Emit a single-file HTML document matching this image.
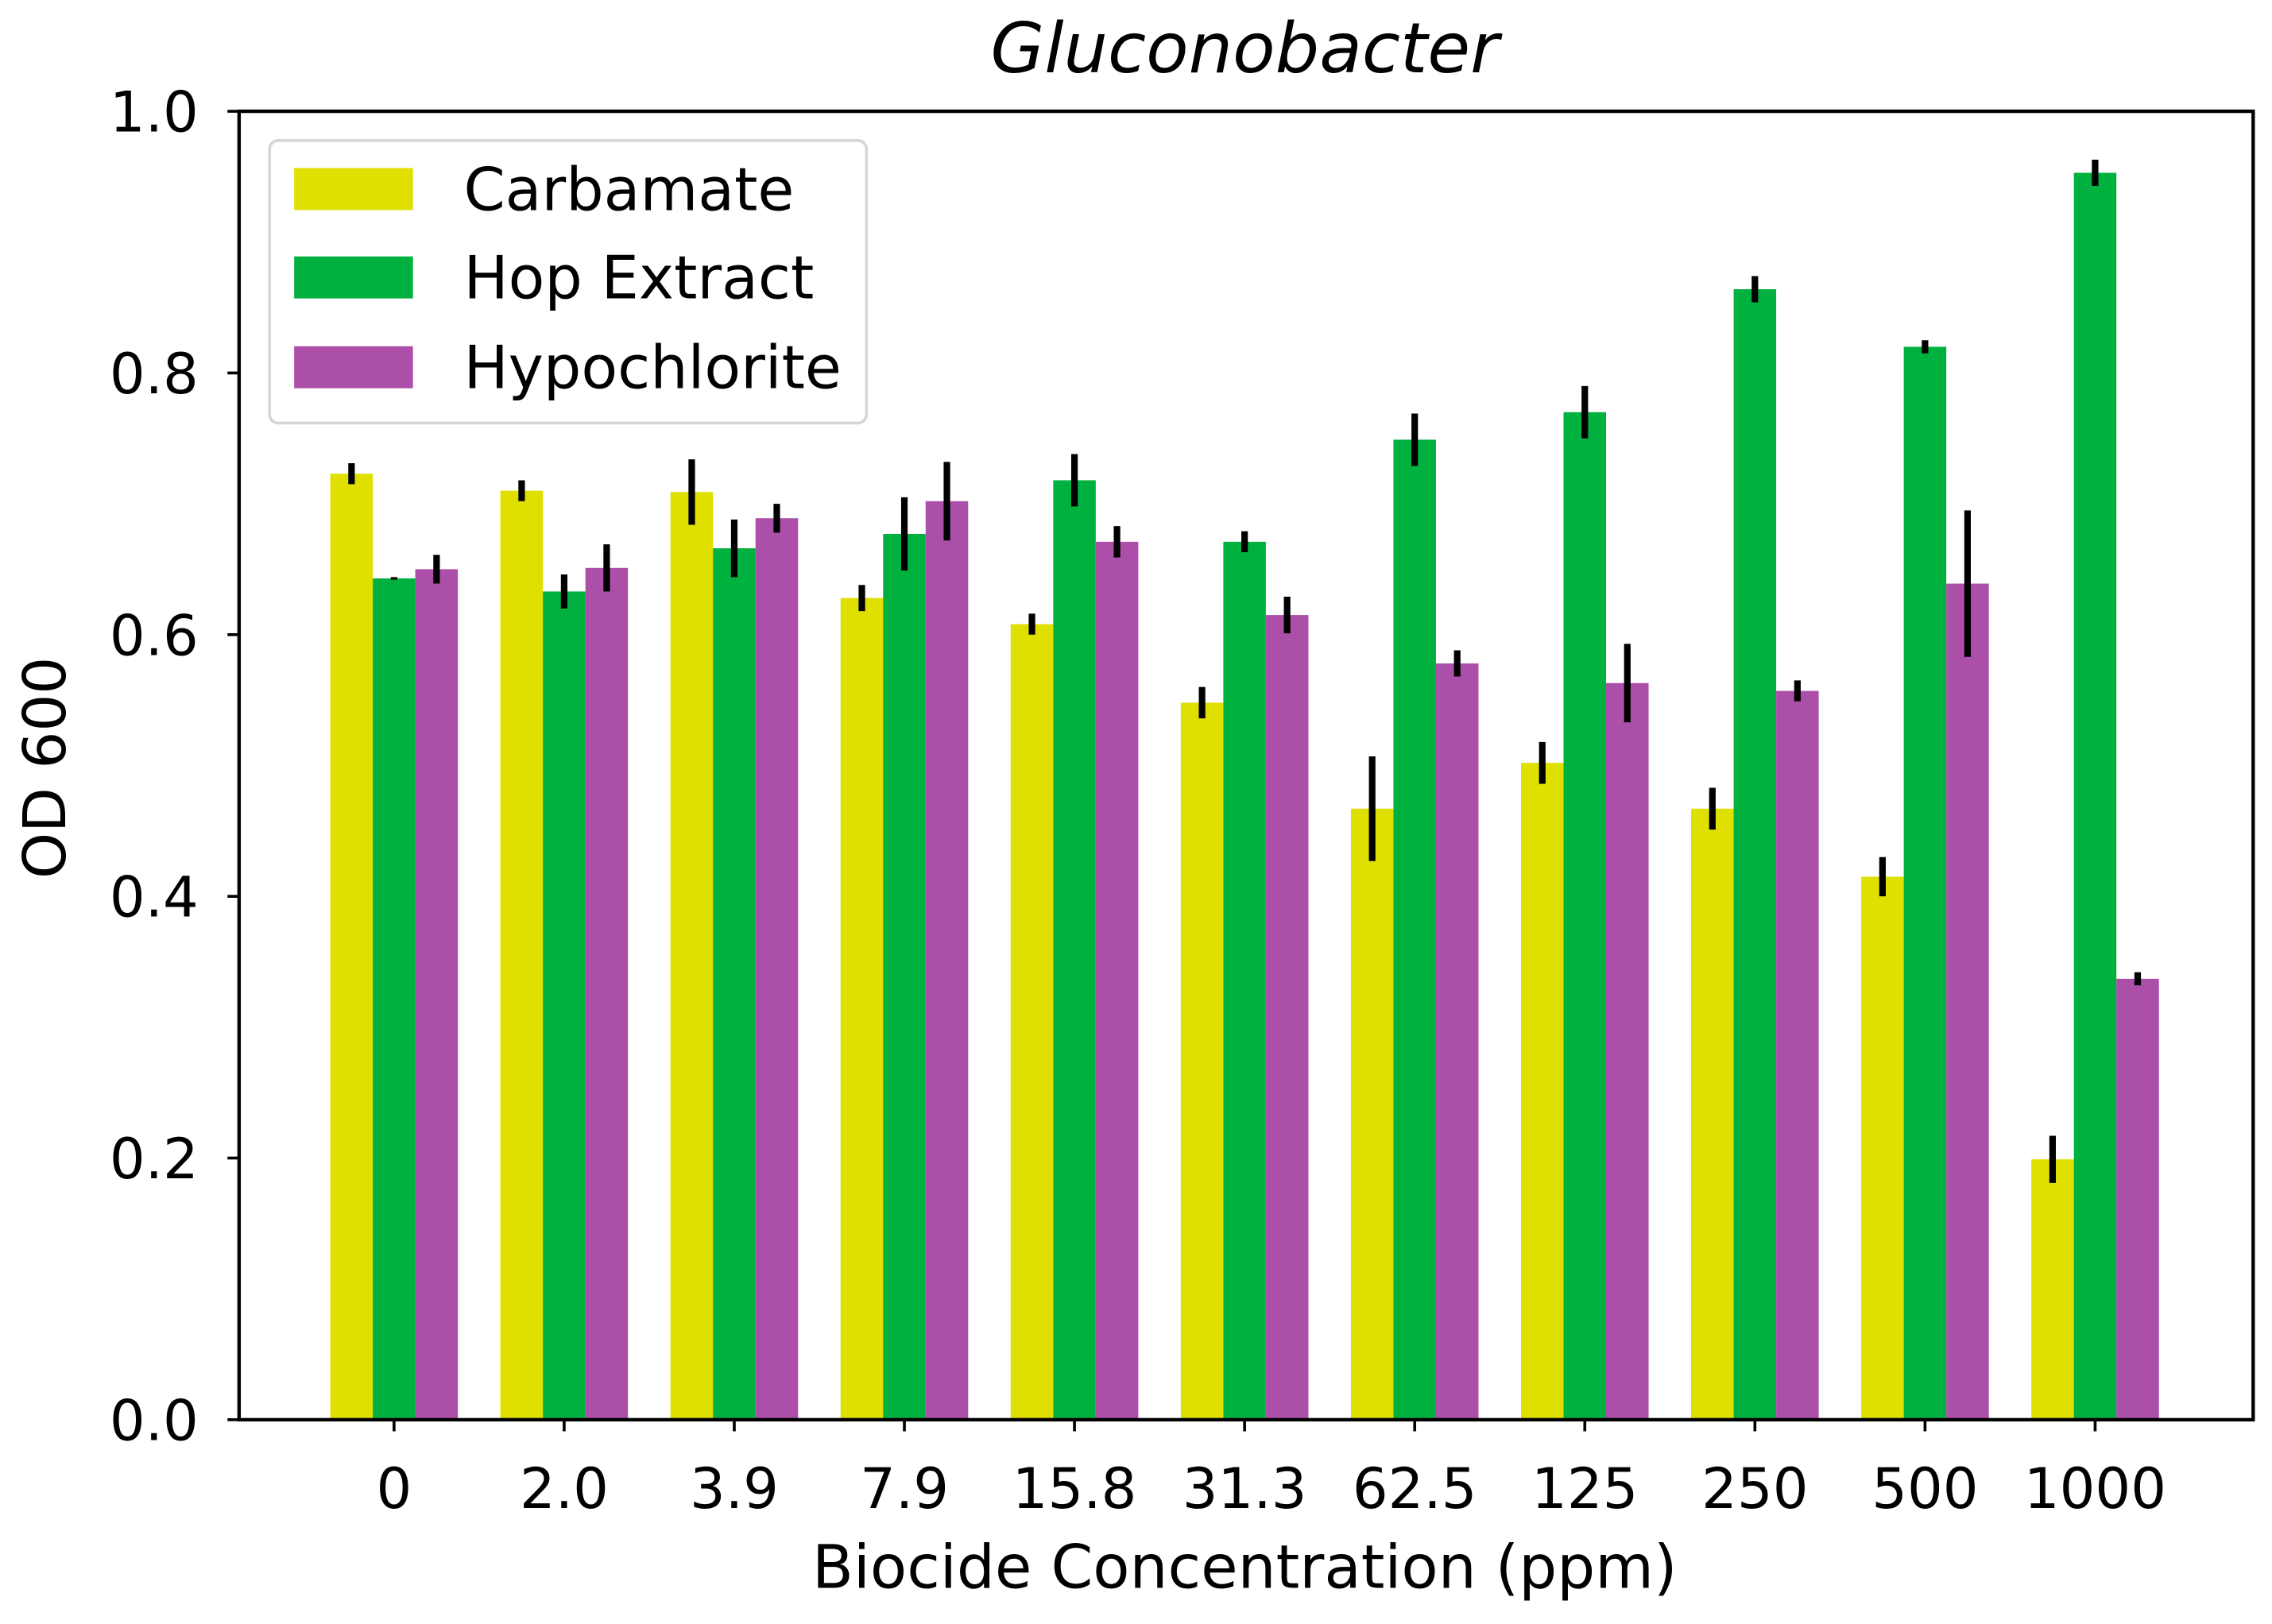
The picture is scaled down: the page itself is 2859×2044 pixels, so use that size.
<!DOCTYPE html>
<html><head><meta charset="utf-8"><style>
html,body{margin:0;padding:0;background:#fff;}
svg{display:block;}
text{font-family:"DejaVu Sans","Liberation Sans",sans-serif;fill:#000;}
</style></head><body>
<svg id="chart" width="2859" height="2044" viewBox="0 0 1568 1121" xmlns="http://www.w3.org/2000/svg">
<rect width="1568" height="1121" fill="#fff"/>
<text x="859" y="50" font-size="48" font-style="italic" text-anchor="middle">Gluconobacter</text>
<g id="bars"></g>
<g id="errs"></g>
<rect x="165" y="76.8" width="1390" height="903.2" fill="none" stroke="#000" stroke-width="2.4"/>
<g id="axes"></g>
<text x="859" y="1096" font-size="41.5" text-anchor="middle">Biocide Concentration (ppm)</text>
<text transform="translate(45,530) rotate(-90)" font-size="40.5" text-anchor="middle">OD 600</text>
<g>
<rect x="186" y="97" width="412" height="195" rx="6" fill="#fff" fill-opacity="0.85" stroke="#d6d6d6" stroke-width="2"/>
<rect x="203" y="116" width="82" height="29" fill="#dfdf00"/>
<text x="320" y="145" font-size="41">Carbamate</text>
<rect x="203" y="177" width="82" height="29" fill="#00b140"/>
<text x="320" y="206" font-size="41">Hop Extract</text>
<rect x="203" y="239" width="82" height="29" fill="#ab4fa8"/>
<text x="320" y="268" font-size="41">Hypochlorite</text>
</g>
</svg>
<script>
const categories = ["0","2.0","3.9","7.9","15.8","31.3","62.5","125","250","500","1000"];
const carbamate = [0.723,0.710,0.709,0.628,0.608,0.548,0.467,0.502,0.467,0.415,0.199];
const carbamateErr = [0.008,0.008,0.025,0.010,0.008,0.012,0.040,0.016,0.016,0.015,0.018];
const hop = [0.643,0.633,0.666,0.677,0.718,0.671,0.749,0.770,0.864,0.820,0.953];
const hopErr = [0.001,0.013,0.022,0.028,0.020,0.008,0.020,0.020,0.010,0.005,0.010];
const hypo = [0.650,0.651,0.689,0.702,0.671,0.615,0.578,0.563,0.557,0.639,0.337];
const hypoErr = [0.011,0.018,0.011,0.030,0.012,0.014,0.010,0.030,0.008,0.056,0.005];
const yTicks = [0,0.2,0.4,0.6,0.8,1.0];
const yTickLabels = ["0.0","0.2","0.4","0.6","0.8","1.0"];

const NS="http://www.w3.org/2000/svg";
const X0=165,X1=1555,Y0=980,Y1=76.8;
const xmin=-0.911,xmax=10.929;
function xs(v){return X0+(v-xmin)/(xmax-xmin)*(X1-X0);}
function ys(v){return Y0-(v-0)/(1-0)*(Y0-Y1);}
const bw=0.25;
function mk(tag,attrs,parent){const e=document.createElementNS(NS,tag);for(const k in attrs)e.setAttribute(k,attrs[k]);parent.appendChild(e);return e;}
const gb=document.getElementById('bars'),ge=document.getElementById('errs'),ga=document.getElementById('axes');
const series=[[carbamate,carbamateErr,"#dfdf00","carbamate",-1],[hop,hopErr,"#00b140","hop-extract",0],[hypo,hypoErr,"#ab4fa8","hypochlorite",1]];
series.forEach(s=>{
  s[0].forEach((v,i)=>{
    const c=i+s[4]*bw;
    const l=xs(c-bw/2),r=xs(c+bw/2);
    const b=mk('rect',{x:l,y:ys(v),width:r-l,height:ys(0)-ys(v),fill:s[2]},gb);
    
    
    const e=mk('line',{x1:xs(c),x2:xs(c),y1:ys(v-s[1][i]),y2:ys(v+s[1][i]),stroke:'#000','stroke-width':4.5},ge);
    
    
  });
});
categories.forEach((c,i)=>{
  const t=mk('line',{x1:xs(i),x2:xs(i),y1:Y0,y2:Y0+8,stroke:'#000','stroke-width':2},ga);
  
  
  const tx=mk('text',{x:xs(i),y:1041,'font-size':38.6,'text-anchor':'middle'},ga);
  tx.textContent=c;
  
  
});
yTicks.forEach((v,i)=>{
  const t=mk('line',{x1:X0-8,x2:X0,y1:ys(v),y2:ys(v),stroke:'#000','stroke-width':2},ga);
  
  
  const tx=mk('text',{x:137,y:ys(v)+14,'font-size':38.6,'text-anchor':'end'},ga);
  tx.textContent=yTickLabels[i];
  
  
});
</script>
</body></html>
